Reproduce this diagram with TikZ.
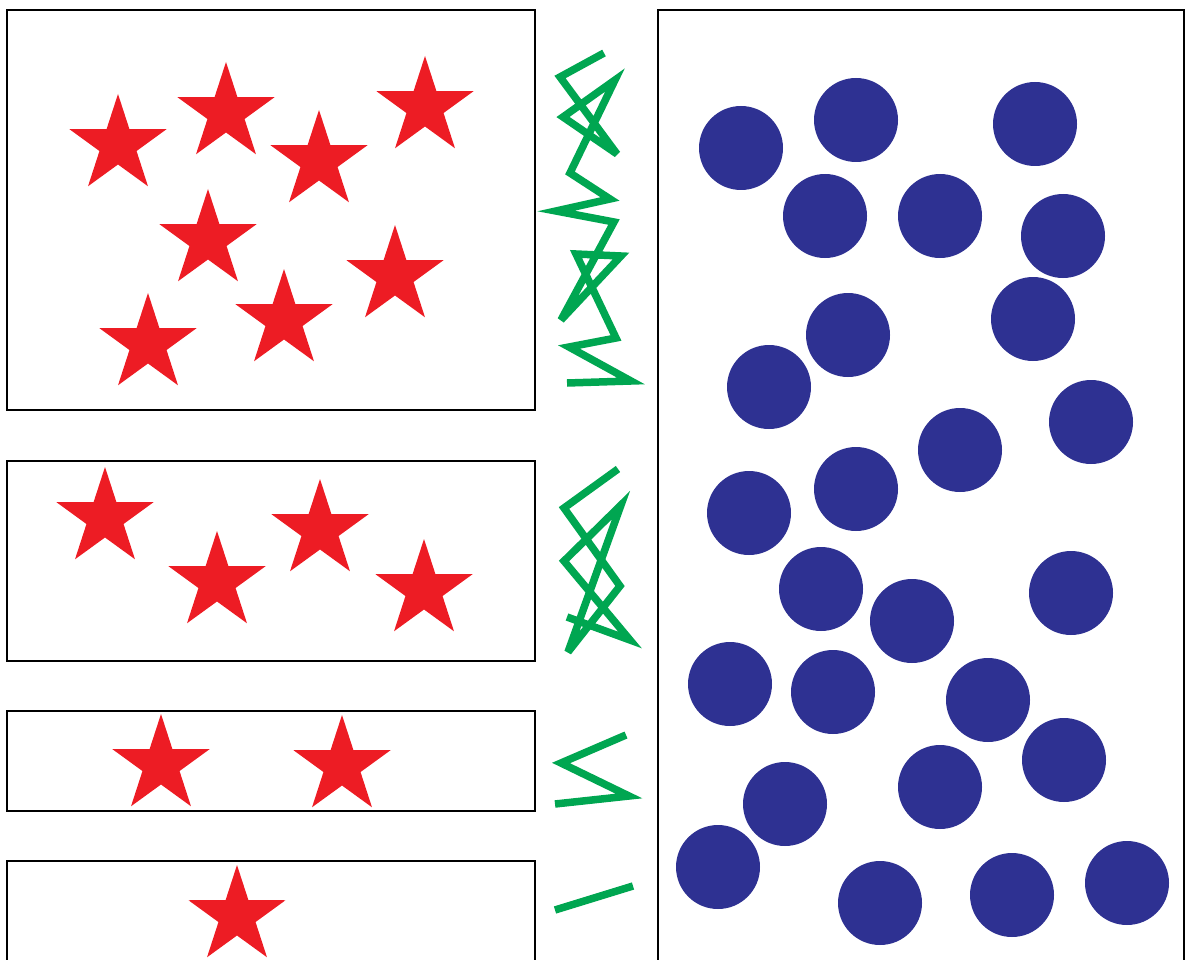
\documentclass[tikz,border=0pt]{standalone}
\definecolor{starred}{RGB}{237,28,36}
\definecolor{dotblue}{RGB}{46,49,146}
\definecolor{zzgreen}{RGB}{0,166,81}
\begin{document}
\begin{tikzpicture}[x=1pt,y=-1pt,
  box/.style={draw=black,line width=2.5pt},
  zig/.style={draw=zzgreen,line width=7.5pt,line join=miter,miter limit=5},
  dot/.style={fill=dotblue},
  redstar/.pic={\fill[starred] (-90:51) -- (-54:19.5) -- (-18:51) -- (18:19.5) -- (54:51) -- (90:19.5) -- (126:51) -- (162:19.5) -- (198:51) -- (234:19.5) -- cycle;}]
\useasboundingbox (0,0) rectangle (1185,960);
\clip (0,0) rectangle (1185,960);
% boxes
\draw[box] (7,10) rectangle (535,410);
\draw[box] (7,461) rectangle (535,661);
\draw[box] (7,711) rectangle (535,811);
\draw[box] (7,861) rectangle (535,990);
\draw[box] (658,10) rectangle (1184.5,990);
% green zigzags
\draw[zig] (604,53) -- (560,77) -- (617,154) -- (563,117) -- (615,80) -- (570,173) -- (610,199) -- (556,211)
  -- (614,222) -- (561,320) -- (621,256) -- (576,254) -- (616,338) -- (569,347) -- (631,381) -- (567,383);
\draw[zig] (618,469) -- (564,508) -- (620,586) -- (568,652) -- (621,505) -- (564,561) -- (630,640) -- (567,617);
\draw[zig] (626,735) -- (561,763) -- (629,796) -- (555,804);
\draw[zig] (555,910) -- (633,886);
% stars
\foreach \p in {(118,145),(226,113),(425,107),(319,161),(208,240),(395,276),(284,320),(148,344),
  (105,518),(217,582),(320,530),(424,590),(161,765),(342,766),(237,916)}
  \pic at \p {redstar};
% dots
\foreach \p in {(741,148),(856,120),(1035,124),(825,216),(940,216),(1063,236),(848,335),(1033,319),
  (769,387),(1091,422),(960,450),(749,513),(856,489),(821,589),(912,621),(1071,593),(730,684),
  (833,692),(988,700),(785,804),(940,787),(1064,760),(718,867),(880,903),(1012,895),(1127,883)}
  \fill[dot] \p circle[radius=42];
\end{tikzpicture}
\end{document}
